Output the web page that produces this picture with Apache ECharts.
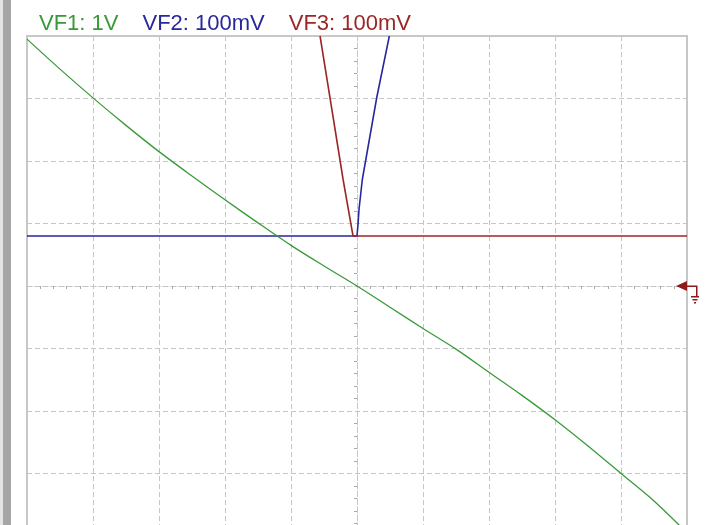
<!DOCTYPE html>
<html><head><meta charset="utf-8">
<script src="https://cdn.jsdelivr.net/npm/echarts@6/dist/echarts.min.js"></script>
<style>html,body{margin:0;padding:0;background:#fff;overflow:hidden}#c{width:705px;height:540px}</style>
</head><body><div id="c"></div>
<script>
// Values in screen divisions (x: time div, y: volts/div of each channel)
const seriesNames = ['VF1: 1V', 'VF2: 100mV', 'VF3: 100mV'];
const colors = ['#3a9a3a', '#27279e', '#9c2626'];

const vf1X = [-5, -4.5, -4, -3.5, -3, -2.5, -2, -1.5, -1, -0.5, 0, 0.5, 1, 1.5, 2, 2.5, 3, 3.5, 4, 4.5, 5];
const vf1Y = [3.95, 3.47, 3.01, 2.57, 2.15, 1.76, 1.38, 1.01, 0.65, 0.32, 0, -0.34, -0.68, -1.01, -1.38, -1.75, -2.14, -2.56, -3.0, -3.44, -3.95];

const vf2X = [-5, 0, 0.015, 0.03, 0.08, 0.3, 0.49];
const vf2Y = [0.8, 0.8, 0.98, 1.22, 1.70, 3.02, 4.0];

const vf3X = [-0.56, -0.38, -0.21, -0.06, 0, 5];
const vf3Y = [4.0, 2.82, 1.70, 0.8, 0.8, 0.8];

const xDivs = [-5, 5];
const yDivs = [-4, 4];

const pair = (xs, ys) => xs.map((x, i) => [x, ys[i]]);

const gridColor = '#c6c6c6';
const dash = [5, 3];

function ax(range, inside) {
  return {
    type: 'value', min: range[0], max: range[1], interval: 1,
    axisLine: { show: true, onZero: true, lineStyle: { color: gridColor, type: dash, width: 1 } },
    axisTick: { show: false, inside: inside },
    minorTick: { show: true, splitNumber: 5, length: 3, lineStyle: { color: '#a8a8a8', width: 1 } },
    axisLabel: { show: false },
    splitLine: { show: !inside, lineStyle: { color: gridColor, type: dash, width: 1 } },
    minorSplitLine: { show: false }
  };
}

const groundPath = 'path://M0,5 L11,0 L11,10 Z M11,4.5 L21.5,4.5 L21.5,6 L11,6 Z M20,4.5 L21.5,4.5 L21.5,15.5 L20,15.5 Z M15,15 L23,15 L23,16.5 L15,16.5 Z M16.5,18 L21.5,18 L21.5,19.5 L16.5,19.5 Z M18,21 L20,21 L20,22.5 L18,22.5 Z';

const chart = echarts.init(document.getElementById('c'), null, { renderer: 'canvas' });
chart.setOption({
  backgroundColor: '#ffffff',
  animation: false,
  graphic: [
    { type: 'rect', shape: { x: 0, y: 0, width: 3, height: 540 }, style: { fill: '#e4e4e4' }, silent: true },
    { type: 'rect', shape: { x: 3, y: 0, width: 8, height: 540 }, style: { fill: '#a6a6a6' }, silent: true }
  ],
  legend: {
    left: 34, top: 13, padding: 0, icon: 'none', itemWidth: 0, itemHeight: 14, itemGap: 19,
    selectedMode: false,
    textStyle: { fontFamily: 'Liberation Sans', fontSize: 22 },
    data: seriesNames.map((n, i) => ({ name: n, textStyle: { color: colors[i] } }))
  },
  grid: { left: 27, top: 36, width: 660, height: 500, show: true, borderColor: '#c8c8c8', borderWidth: 2, backgroundColor: 'transparent' },
  xAxis: [ax(xDivs, false), ax(xDivs, true)],
  yAxis: [ax(yDivs, false), ax(yDivs, true)],
  series: [
    { name: seriesNames[1], type: 'line', data: pair(vf2X, vf2Y), showSymbol: false, z: 3,
      lineStyle: { color: colors[1], width: 1.6 }, itemStyle: { color: colors[1] } },
    { name: seriesNames[2], type: 'line', data: pair(vf3X, vf3Y), showSymbol: false, z: 4,
      lineStyle: { color: colors[2], width: 1.6 }, itemStyle: { color: colors[2] },
      markPoint: { silent: true, symbol: groundPath, symbolSize: [23, 22.5], symbolOffset: [0.5, 6.25],
        itemStyle: { color: '#8e1a1a' }, label: { show: false },
        data: [{ coord: [xDivs[1], 0] }] } },
    { name: seriesNames[0], type: 'line', data: pair(vf1X, vf1Y), showSymbol: false, z: 5, smooth: 0.3,
      lineStyle: { color: colors[0], width: 1.3 }, itemStyle: { color: colors[0] } }
  ]
});
</script></body></html>
